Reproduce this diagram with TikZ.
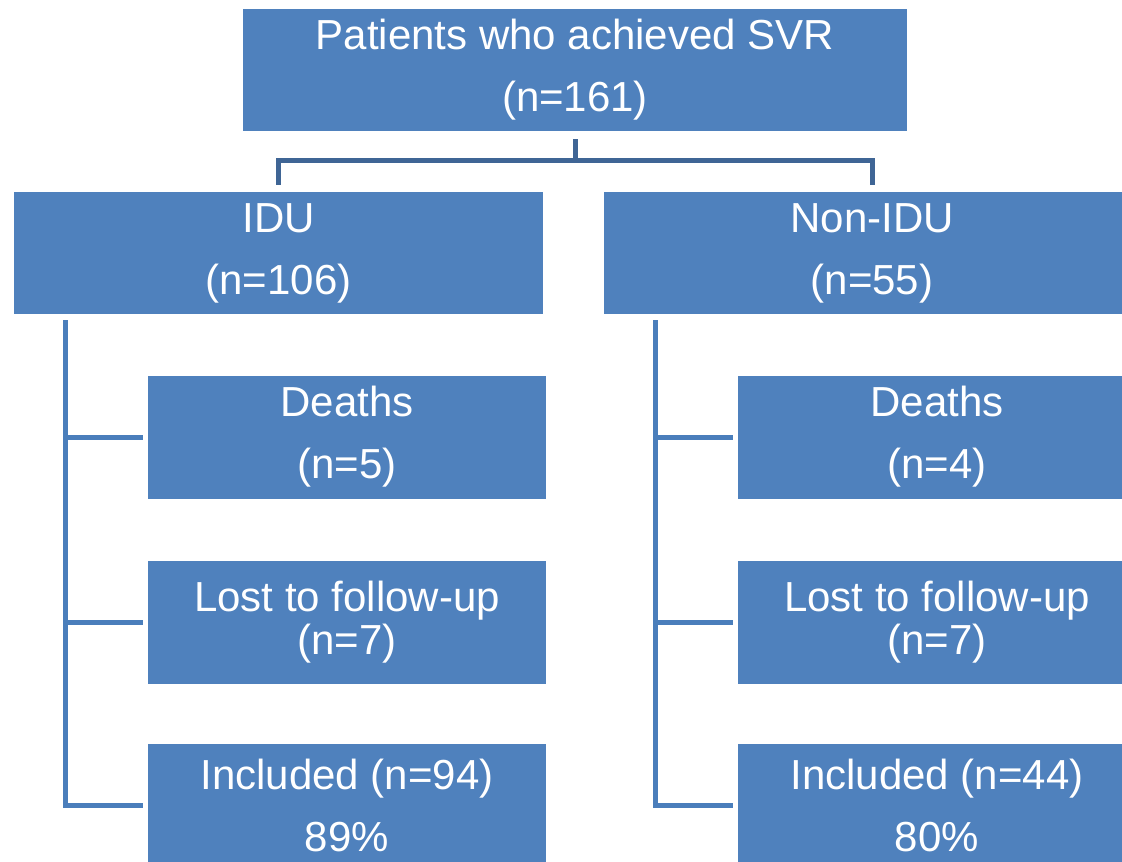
\documentclass[tikz,border=0pt]{standalone}
\usepackage{fontspec}
\setmainfont{Liberation Sans}
\definecolor{boxblue}{HTML}{4F81BD}
\definecolor{linkblue}{HTML}{4A7EBB}
\definecolor{topline}{HTML}{3F6595}
\tikzset{
  box/.style={rectangle, fill=boxblue, draw=none, inner sep=0pt, text=white,
    align=center, font=\fontsize{42}{62}\selectfont},
  bigbox/.style={box, minimum width=529pt, minimum height=122pt},
  smallbox/.style={box, minimum width=398pt, minimum height=123pt},
  tightbox/.style={font=\fontsize{42}{43}\selectfont},
  topconn/.style={draw=topline, line width=5pt},
  sideconn/.style={draw=linkblue, line width=5pt}
}
\begin{document}
\begin{tikzpicture}[x=1pt,y=-1pt]
\useasboundingbox (0,0) rectangle (1122,862);
\begin{scope}
\clip (0,0) rectangle (1122,862);
\node[box, minimum width=664pt, minimum height=122pt] (top) at (575,70) {Patients who achieved SVR\\(n=161)};
\node[bigbox] (idu) at (278.5,253) {IDU\\(n=106)};
\node[bigbox, minimum width=536pt] (non) at (872,253) {Non-IDU\\(n=55)};
\node[smallbox] (d1) at (347,437) {Deaths\\(n=5)};
\node[smallbox, tightbox] (l1) at (347,622) {Lost to follow-up\\(n=7)};
\node[smallbox] (i1) at (347,805) {Included (n=94)\\89\%};
\node[smallbox] (d2) at (937,437) {Deaths\\(n=4)};
\node[smallbox, tightbox] (l2) at (937,622) {Lost to follow-up\\(n=7)};
\node[smallbox] (i2) at (937,805) {Included (n=44)\\80\%};
\end{scope}
\coordinate (hub) at (575,160);
\draw[topconn] ([yshift=-8pt]top.south) -- (hub);
\draw[topconn] ([yshift=7pt]idu.north) -- (idu.north |- hub) -- (non.north |- hub) -- ([yshift=7pt]non.north);
\coordinate (lt) at (65,320);
\coordinate (rt) at (655,320);
\draw[sideconn] (lt) |- ([xshift=-5pt]i1.west);
\draw[sideconn] (lt |- d1.west) -- ([xshift=-5pt]d1.west);
\draw[sideconn] (lt |- l1.west) -- ([xshift=-5pt]l1.west);
\draw[sideconn] (rt) |- ([xshift=-5pt]i2.west);
\draw[sideconn] (rt |- d2.west) -- ([xshift=-5pt]d2.west);
\draw[sideconn] (rt |- l2.west) -- ([xshift=-5pt]l2.west);
\end{tikzpicture}
\end{document}
